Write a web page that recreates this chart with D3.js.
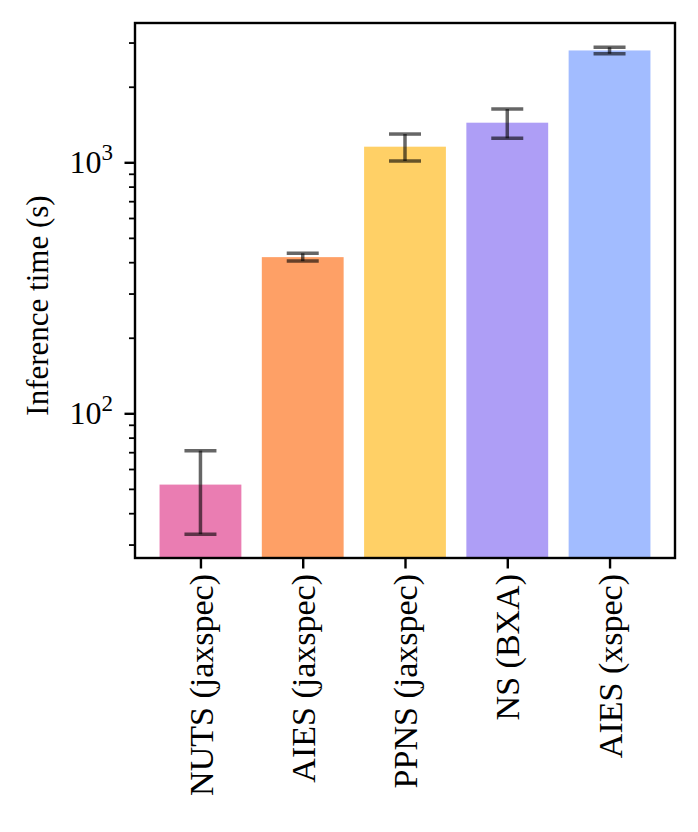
<!DOCTYPE html>
<html>
<head>
<meta charset="utf-8">
<script src="https://cdn.jsdelivr.net/npm/d3@7"></script>
<style>
    body { margin: 0; background: #fff; }
</style>
</head>
<body>
<svg id="chart" width="698" height="832"></svg>
<script>
// data
let methods = ["NUTS (jaxspec)", "AIES (jaxspec)", "PPNS (jaxspec)", "NS (BXA)", "AIES (xspec)"];
let times = [52, 419, 1154, 1438, 2790];
let errors = [19, 15, 142, 192, 82];
let colors = ["#dc267f", "#fe6100", "#ffb000", "#785ef0", "#648fff"];
let yTicks = [100, 1000];

let serif = "'Liberation Serif', 'DejaVu Serif', serif";

let svg = d3.select("#chart");

let plotLeft = 135, plotRight = 675, plotTop = 23, plotBottom = 558;

let x = d3.scaleLinear()
    .domain([-0.64, methods.length - 1 + 0.64])
    .range([plotLeft, plotRight]);

let y = d3.scaleLog()
    .domain([26.52, 3589])
    .range([plotBottom, plotTop]);

let barWidth = x(0.8) - x(0);

// bars
svg.append("g")
    .selectAll("rect")
    .data(times)
    .enter().append("rect")
    .attr("x", function (d, i) { return x(i) - barWidth / 2; })
    .attr("y", function (d) { return y(d); })
    .attr("width", barWidth)
    .attr("height", function (d) { return plotBottom - y(d); })
    .attr("fill", function (d, i) { return colors[i]; })
    .attr("fill-opacity", 0.6);

// error bars
let err = svg.append("g")
    .attr("stroke", "#000")
    .attr("stroke-opacity", 0.6)
    .attr("stroke-width", 3.5)
    .selectAll("g")
    .data(times)
    .enter().append("g");

err.append("line")
    .attr("x1", function (d, i) { return x(i); })
    .attr("x2", function (d, i) { return x(i); })
    .attr("y1", function (d, i) { return y(d + errors[i]); })
    .attr("y2", function (d, i) { return y(d - errors[i]); });

[1, -1].forEach(function (s) {
    err.append("line")
        .attr("x1", function (d, i) { return x(i) - 16; })
        .attr("x2", function (d, i) { return x(i) + 16; })
        .attr("y1", function (d, i) { return y(d + s * errors[i]); })
        .attr("y2", function (d, i) { return y(d + s * errors[i]); });
});

// y axis: major + minor ticks
let minor = y.ticks().filter(function (t) { return yTicks.indexOf(t) < 0; });

let yMinor = svg.append("g")
    .attr("transform", "translate(" + plotLeft + ",0)")
    .call(d3.axisLeft(y).tickValues(minor).tickSize(6).tickFormat(""));
yMinor.select(".domain").remove();
yMinor.selectAll(".tick line").attr("stroke-width", 1.8);

let yMajor = svg.append("g")
    .attr("transform", "translate(" + plotLeft + ",0)")
    .call(d3.axisLeft(y).tickValues(yTicks).tickSize(10.5).tickFormat(""));
yMajor.select(".domain").remove();
yMajor.selectAll(".tick line").attr("stroke-width", 2.4);

yMajor.selectAll(".tick").append("text")
    .attr("x", -22)
    .attr("dy", "0.33em")
    .attr("text-anchor", "end")
    .attr("font-family", serif)
    .attr("font-size", 32)
    .attr("fill", "#000")
    .each(function (d) {
        let t = d3.select(this);
        t.append("tspan").text("10");
        t.append("tspan")
            .attr("font-size", 23)
            .attr("dy", "-0.6em")
            .text(Math.round(Math.log10(d)));
    });

// x axis
let xAxis = svg.append("g")
    .attr("transform", "translate(0," + plotBottom + ")")
    .call(d3.axisBottom(x).tickValues(d3.range(methods.length)).tickSize(10.5).tickFormat(""));
xAxis.select(".domain").remove();
xAxis.selectAll(".tick line").attr("stroke-width", 2.4);

xAxis.selectAll(".tick").append("text")
    .attr("transform", "translate(0,16) rotate(-90)")
    .attr("text-anchor", "end")
    .attr("dy", "0.34em")
    .attr("font-family", serif)
    .attr("font-size", 34)
    .attr("fill", "#000")
    .text(function (d) { return methods[d]; });

// frame
svg.append("rect")
    .attr("x", plotLeft)
    .attr("y", plotTop)
    .attr("width", plotRight - plotLeft)
    .attr("height", plotBottom - plotTop)
    .attr("fill", "none")
    .attr("stroke", "#000")
    .attr("stroke-width", 2.4);

// y label
svg.append("text")
    .attr("transform", "translate(48," + ((plotTop + plotBottom) / 2 + 15) + ") rotate(-90)")
    .attr("text-anchor", "middle")
    .attr("font-family", serif)
    .attr("font-size", 31)
    .text("Inference time (s)");
</script>
</body>
</html>
